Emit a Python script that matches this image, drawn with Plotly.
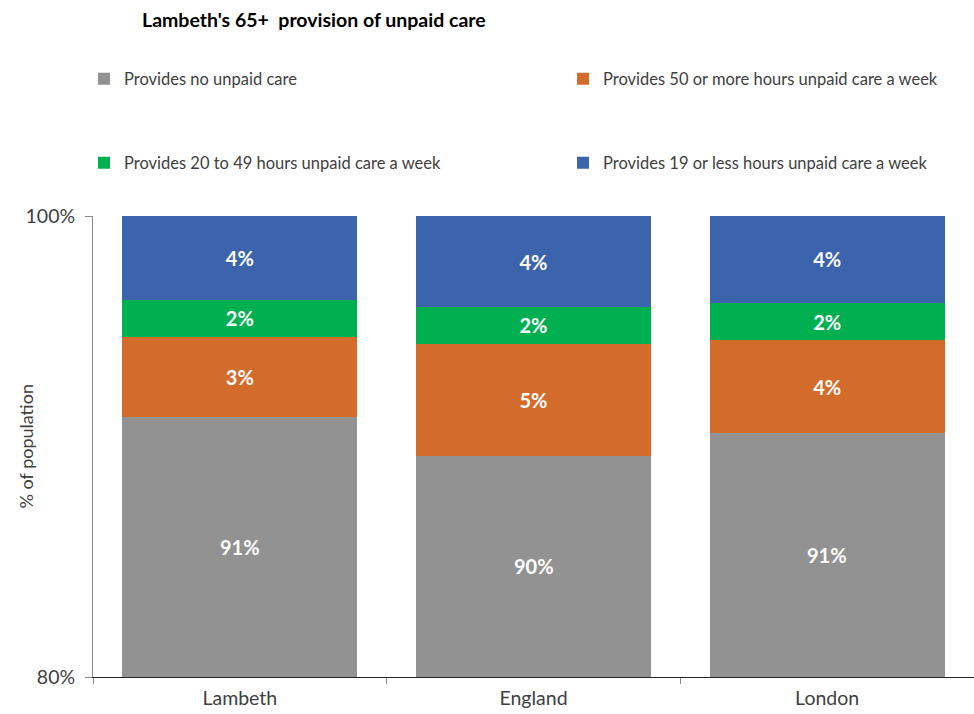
import plotly.graph_objects as go

# Share of residents aged 65+ by amount of unpaid care provided
areas = ["Lambeth", "England", "London"]
no_care = [0.9128, 0.8960, 0.9060]
hours_50_plus = [0.0347, 0.0485, 0.0400]
hours_20_49 = [0.0161, 0.0160, 0.0163]
hours_19_less = [0.0364, 0.0395, 0.0377]

AXIS_MIN, AXIS_MAX = 0.8, 1.0

# name, values, colour, legend id, legend anchor (x px, y px)
series = [
    ("Provides no unpaid care", no_care, "#929292", "legend", (84, 79)),
    ("Provides 50 or more hours unpaid care a week", hours_50_plus, "#D36B2A", "legend2", (563, 79)),
    ("Provides 20 to 49 hours unpaid care a week", hours_20_49, "#00B050", "legend3", (84, 163)),
    ("Provides 19 or less hours unpaid care a week", hours_19_less, "#3C64AC", "legend4", (563, 163)),
]

FONT = "Lato, 'Open Sans', sans-serif"
LABEL_FONT = dict(color="white", size=20, family=FONT, weight="bold")
W, H = 974, 714
M_L, M_R, M_T, M_B = 93, 0, 216, 37
PLOT_W = W - M_L - M_R

fig = go.Figure()
for i, (name, vals, color, leg, _) in enumerate(series):
    # the bottom segment starts below the visible axis range, so its
    # label is placed separately in the visible part of the bar
    bottom = i == 0
    fig.add_trace(go.Bar(
        x=areas, y=vals, name=name,
        marker=dict(color=color, line=dict(width=0)),
        texttemplate="%{y:.0%}",
        textposition="none" if bottom else "inside",
        insidetextanchor="middle",
        textfont=LABEL_FONT,
        legend=leg,
    ))

for area, v in zip(areas, no_care):
    fig.add_annotation(
        x=area, y=(AXIS_MIN + v) / 2, xref="x", yref="y",
        text=f"{v:.0%}", showarrow=False, font=LABEL_FONT,
    )

# y-axis title, centred on the plot area near the left edge
fig.add_annotation(
    x=(25 - M_L) / PLOT_W, y=0.5, xref="paper", yref="paper",
    text="% of population", textangle=-90, showarrow=False,
    xanchor="center", yanchor="middle",
    font=dict(size=18, family=FONT, color="#404040"),
)

layout_legends = {}
for name, vals, color, leg, (lx, ly) in series:
    layout_legends[leg] = dict(
        xref="container", yref="container",
        x=lx / W, y=1 - ly / H, xanchor="left", yanchor="middle",
        font=dict(size=16.5, family=FONT, color="#404040"),
        bgcolor="rgba(0,0,0,0)", itemclick=False,
    )

fig.update_layout(
    width=W, height=H,
    margin=dict(l=M_L, r=M_R, t=M_T, b=M_B, autoexpand=False),
    paper_bgcolor="white", plot_bgcolor="white",
    barmode="stack", bargap=0.2,
    font=dict(family=FONT, color="#404040"),
    title=dict(
        text="<b>Lambeth's 65+\u00a0 provision of unpaid care</b>",
        xref="container", yref="container",
        x=142 / W, xanchor="left", y=1 - 20 / H, yanchor="middle",
        font=dict(size=19.5, family=FONT, color="#000000"),
    ),
    showlegend=True,
    **layout_legends,
)

fig.update_yaxes(
    range=[AXIS_MIN, AXIS_MAX], tickvals=[AXIS_MIN, AXIS_MAX], tickformat=".0%",
    showgrid=False, zeroline=False,
    showline=True, linecolor="#898989", linewidth=1,
    ticks="outside", ticklen=7, tickcolor="#898989",
    ticklabelstandoff=6,
    tickfont=dict(size=19.5, family=FONT, color="#404040"),
)
fig.update_xaxes(
    showgrid=False, showline=True, linecolor="#262626", linewidth=1,
    ticks="outside", tickson="boundaries", ticklen=6, tickcolor="#898989",
    ticklabelstandoff=4, tickangle=0,
    tickfont=dict(size=19.5, family=FONT, color="#404040"),
)

fig.write_html("out.html")
